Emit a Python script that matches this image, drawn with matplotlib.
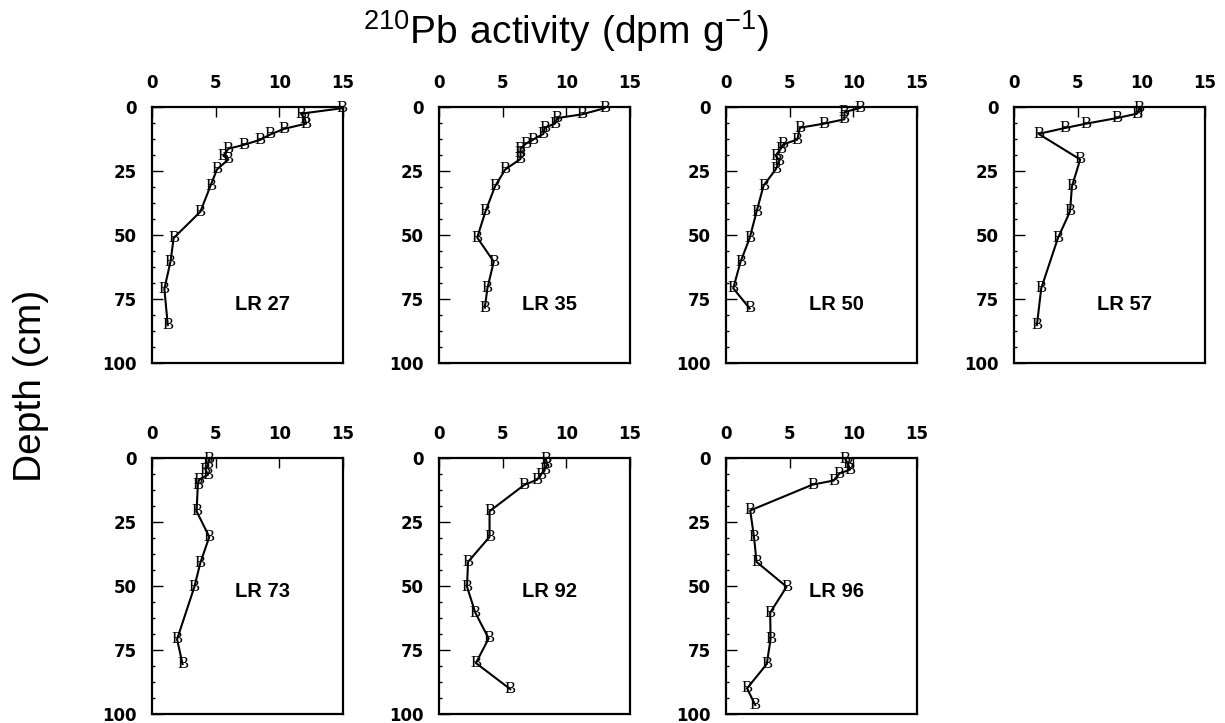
import matplotlib
matplotlib.use("Agg")
import matplotlib.pyplot as plt
from matplotlib.ticker import MultipleLocator

plt.rcParams['font.family'] = ['Liberation Sans', 'DejaVu Sans']

# 210Pb activity (dpm/g) vs depth (cm) for each core
cores = ["LR 27", "LR 35", "LR 50", "LR 57", "LR 73", "LR 92", "LR 96"]

lr27_act = [14.9, 11.7, 12.0, 12.1, 10.4, 9.3, 8.5, 7.2, 6.0, 5.6, 6.0, 5.1, 4.6, 3.8, 1.7, 1.45, 0.97, 1.24]
lr27_dep = [0.5, 2.6, 4.6, 6.5, 8.5, 10.7, 12.8, 14.8, 16.3, 19.0, 20.5, 24.4, 30.7, 40.9, 51.2, 60.5, 71.0, 85.2]

lr35_act = [13.0, 11.2, 9.3, 9.1, 8.3, 8.2, 7.4, 6.8, 6.4, 6.4, 6.4, 5.2, 4.4, 3.65, 3.0, 4.3, 3.8, 3.6]
lr35_dep = [0.5, 2.9, 4.3, 6.5, 8.1, 10.5, 12.7, 14.4, 16.3, 17.9, 20.3, 24.4, 31.0, 40.8, 51.0, 60.4, 70.8, 78.4]

lr50_act = [10.5, 9.3, 9.3, 7.7, 5.8, 5.6, 4.5, 4.3, 3.9, 4.2, 3.9, 2.95, 2.4, 1.86, 1.14, 0.57, 1.86]
lr50_dep = [0.4, 2.0, 4.8, 6.5, 8.1, 12.7, 14.6, 16.3, 19.0, 20.9, 24.4, 30.7, 40.9, 51.2, 60.5, 70.8, 78.7]

lr57_act = [9.85, 9.67, 8.1, 5.67, 4.0, 1.93, 5.2, 4.55, 4.4, 3.45, 2.14, 1.8]
lr57_dep = [0.4, 2.6, 4.3, 6.5, 8.2, 10.5, 20.5, 31.0, 40.8, 51.2, 70.8, 85.2]

lr73_act = [4.5, 4.4, 4.2, 4.4, 3.7, 3.6, 3.5, 4.5, 3.8, 3.33, 1.97, 2.4]
lr73_dep = [0.5, 2.5, 4.5, 6.5, 8.5, 10.5, 20.8, 30.8, 40.9, 50.3, 70.8, 80.5]

lr92_act = [8.4, 8.5, 8.3, 8.0, 7.7, 6.7, 3.97, 3.97, 2.28, 2.2, 2.85, 3.9, 2.9, 5.6]
lr92_dep = [0.5, 2.5, 4.5, 6.5, 8.5, 10.5, 20.8, 30.8, 40.6, 50.3, 60.4, 70.5, 80.1, 90.3]

lr96_act = [9.36, 9.57, 9.75, 8.9, 8.46, 6.8, 1.9, 2.2, 2.4, 4.76, 3.47, 3.5, 3.2, 1.65, 2.3]
lr96_dep = [0.3, 2.2, 4.5, 6.1, 8.8, 10.4, 20.5, 30.8, 40.6, 50.3, 60.4, 70.8, 80.5, 90.0, 96.5]

acts = [lr27_act, lr35_act, lr50_act, lr57_act, lr73_act, lr92_act, lr96_act]
deps = [lr27_dep, lr35_dep, lr50_dep, lr57_dep, lr73_dep, lr92_dep, lr96_dep]
label_depth = [77, 77, 77, 77, 52, 52, 52]

fig = plt.figure(figsize=(12.25, 7.23), dpi=100)

W, H = 1225, 723
lefts = [152, 439, 726, 1014]
tops = [107, 458]
aw, ah = 191, 256

for i, name in enumerate(cores):
    row, col = divmod(i, 4)
    x0 = lefts[col]
    y0 = tops[row]
    ax = fig.add_axes([x0 / W, 1 - (y0 + ah) / H, aw / W, ah / H])

    ax.plot(acts[i], deps[i], color='black', lw=1.5, zorder=2)
    for a, d in zip(acts[i], deps[i]):
        ax.text(a, d, 'B', family='Liberation Serif', fontsize=12,
                ha='center', va='center', zorder=3)

    ax.set_xlim(0, 15)
    ax.set_ylim(100, 0)
    ax.xaxis.set_major_locator(MultipleLocator(5))
    ax.yaxis.set_major_locator(MultipleLocator(25))
    ax.yaxis.set_minor_locator(MultipleLocator(6.25))
    ax.xaxis.tick_top()
    ax.tick_params(axis='x', which='major', direction='in', length=7, width=1,
                   pad=11, top=True, bottom=False)
    ax.tick_params(axis='y', which='major', direction='in', length=8, width=1,
                   pad=11, left=True, right=False)
    ax.tick_params(axis='y', which='minor', direction='in', length=2.5, width=1,
                   left=True, right=False)
    for lab in ax.get_xticklabels() + ax.get_yticklabels():
        lab.set_fontfamily('DejaVu Sans')
        lab.set_fontweight('bold')
        lab.set_fontsize(12)
    for sp in ax.spines.values():
        sp.set_linewidth(1.6)

    ax.text(8.7, label_depth[i], name, fontsize=14.5, fontweight='bold',
            ha='center', va='center')

fig.text(566 / W, 1 - 44 / H,
         r'$\mathregular{^{210}Pb\ activity\ (dpm\ g^{-1})}$',
         fontsize=28, ha='center', va='baseline')
fig.text(31 / W, 1 - 386 / H, 'Depth (cm)', fontsize=28, rotation=90,
         ha='center', va='center')

fig.savefig('out.png', dpi=100)
